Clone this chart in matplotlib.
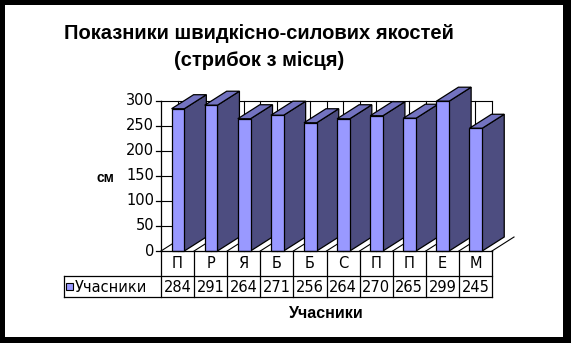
import numpy as np
import matplotlib.pyplot as plt
from matplotlib.patches import Polygon, Rectangle

plt.rcParams['font.family'] = ['Liberation Sans', 'DejaVu Sans']

# data
categories = ['П', 'Р', 'Я', 'Б', 'Б', 'С', 'П', 'П', 'Е', 'М']
values = [284, 291, 264, 271, 256, 264, 270, 265, 299, 245]
series_name = 'Учасники'
y_ticks = [0, 50, 100, 150, 200, 250, 300]

title = 'Показники швидкісно-силових якостей\n(стрибок з місця)'
x_title = 'Учасники'
y_title = 'см'

front_c = '#9999ff'
top_c = '#7373c0'
side_c = '#4d4d80'
lbl_font = 'DejaVu Sans'

W, H = 571, 343
fig = plt.figure(figsize=(W / 100, H / 100), dpi=100)
fig.patch.set_facecolor('black')


def box(x0, y0, x1, y1):
    # pixel box measured from top-left -> figure fraction rect
    return [x0 / W, 1 - y1 / H, (x1 - x0) / W, (y1 - y0) / H]


fig.patches.append(Rectangle((5 / W, 6 / H), 558 / W, 332 / H,
                             transform=fig.transFigure, facecolor='white',
                             edgecolor='none', zorder=-10))

fig.text(259 / W, 1 - 47 / H, title, ha='center', va='center',
         fontsize=14.5, fontweight='bold', linespacing=1.5)

# ---------------------------------------------------------------
# 3d column area
ax = fig.add_axes(box(161, 100.7, 492, 251))
ax.set_xlim(0, len(categories))
ax.set_ylim(0, 300)
ax.axis('off')

ppx = 331.0 / len(categories)    # pixels per category
ppy = 150.3 / 300.0              # pixels per unit
dx = 22 / ppx
dy = 14 / ppy
x_left, x_right = 0.32, 0.705

# gridlines on the wall
for t in y_ticks[1:]:
    ax.plot([0, len(categories)], [t, t], color='black', lw=0.8, zorder=1,
            clip_on=False)
for k in np.arange(0.5, len(categories) + 0.01, 0.5):
    ax.plot([k, k], [0, 300], color='black', lw=0.8, zorder=1, clip_on=False)

# floor
n = len(categories)
ax.add_patch(Polygon([(0, 0), (n, 0), (n + dx, dy), (dx, dy), (0, 0)],
                     closed=True, facecolor='white', edgecolor='none',
                     zorder=2, clip_on=False))
for k in range(n + 1):
    ax.plot([k, k + dx], [0, dy], color='black', lw=0.8, zorder=2,
            clip_on=False)

# columns
z = 3
for i, v in enumerate(values):
    x0, x1 = i + x_left, i + x_right
    side = [(x1, 0), (x1 + dx, dy), (x1 + dx, v + dy), (x1, v)]
    top = [(x0, v), (x1, v), (x1 + dx, v + dy), (x0 + dx, v + dy)]
    front = [(x0, 0), (x1, 0), (x1, v), (x0, v)]
    for pts, c in ((side, side_c), (top, top_c), (front, front_c)):
        ax.add_patch(Polygon(pts, closed=True, facecolor=c, edgecolor='black',
                             lw=0.9, zorder=z, clip_on=False))
    z += 1

# value axis
ax.plot([0, 0], [0, 300], color='black', lw=0.9, zorder=50, clip_on=False)
tick_len = 5 / ppx
for t in y_ticks:
    ax.plot([-tick_len, 0], [t, t], color='black', lw=0.9, zorder=50,
            clip_on=False)
    ax.text(-7 / ppx, t, str(t), ha='right', va='center', fontsize=10.5,
            family=lbl_font, zorder=50)

fig.text(105 / W, 1 - 178 / H, y_title, ha='center', va='center',
         fontsize=10, fontweight='bold')

# ---------------------------------------------------------------
# data table under the columns
tx0 = (64.3 - 161) / ppx
tb = fig.add_axes(box(64.3, 251, 492, 297.3))
tb.set_xlim(tx0, n)
tb.set_ylim(46.3, 0)
tb.axis('off')
row_split = 25
lk = dict(color='black', lw=0.9, clip_on=False)
tb.plot([0, n], [0, 0], **lk)
tb.plot([tx0, n], [row_split, row_split], **lk)
tb.plot([tx0, n], [46.3, 46.3], **lk)
tb.plot([tx0, tx0], [row_split, 46.3], **lk)
for k in range(n + 1):
    tb.plot([k, k], [0, 46.3], **lk)
for i, (c, v) in enumerate(zip(categories, values)):
    tb.text(i + 0.5, row_split / 2 + 0.5, c, ha='center', va='center',
            fontsize=10.5, family=lbl_font)
    tb.text(i + 0.5, (row_split + 46.3) / 2 + 0.5, str(v), ha='center',
            va='center', fontsize=10.5, family=lbl_font)

tb.add_patch(Rectangle((tx0 + 1.8 / ppx, 32.3), 6.5 / ppx, 6.5,
                       facecolor=front_c, edgecolor='black', lw=0.8,
                       clip_on=False))
tb.text(tx0 + 10.5 / ppx, (row_split + 46.3) / 2 + 0.5, series_name,
        ha='left', va='center', fontsize=10.5, family=lbl_font)

fig.text(326 / W, 1 - 314 / H, x_title, ha='center', va='center',
         fontsize=11.5, fontweight='bold')

plt.savefig('out.png', dpi=100, facecolor=fig.get_facecolor())
